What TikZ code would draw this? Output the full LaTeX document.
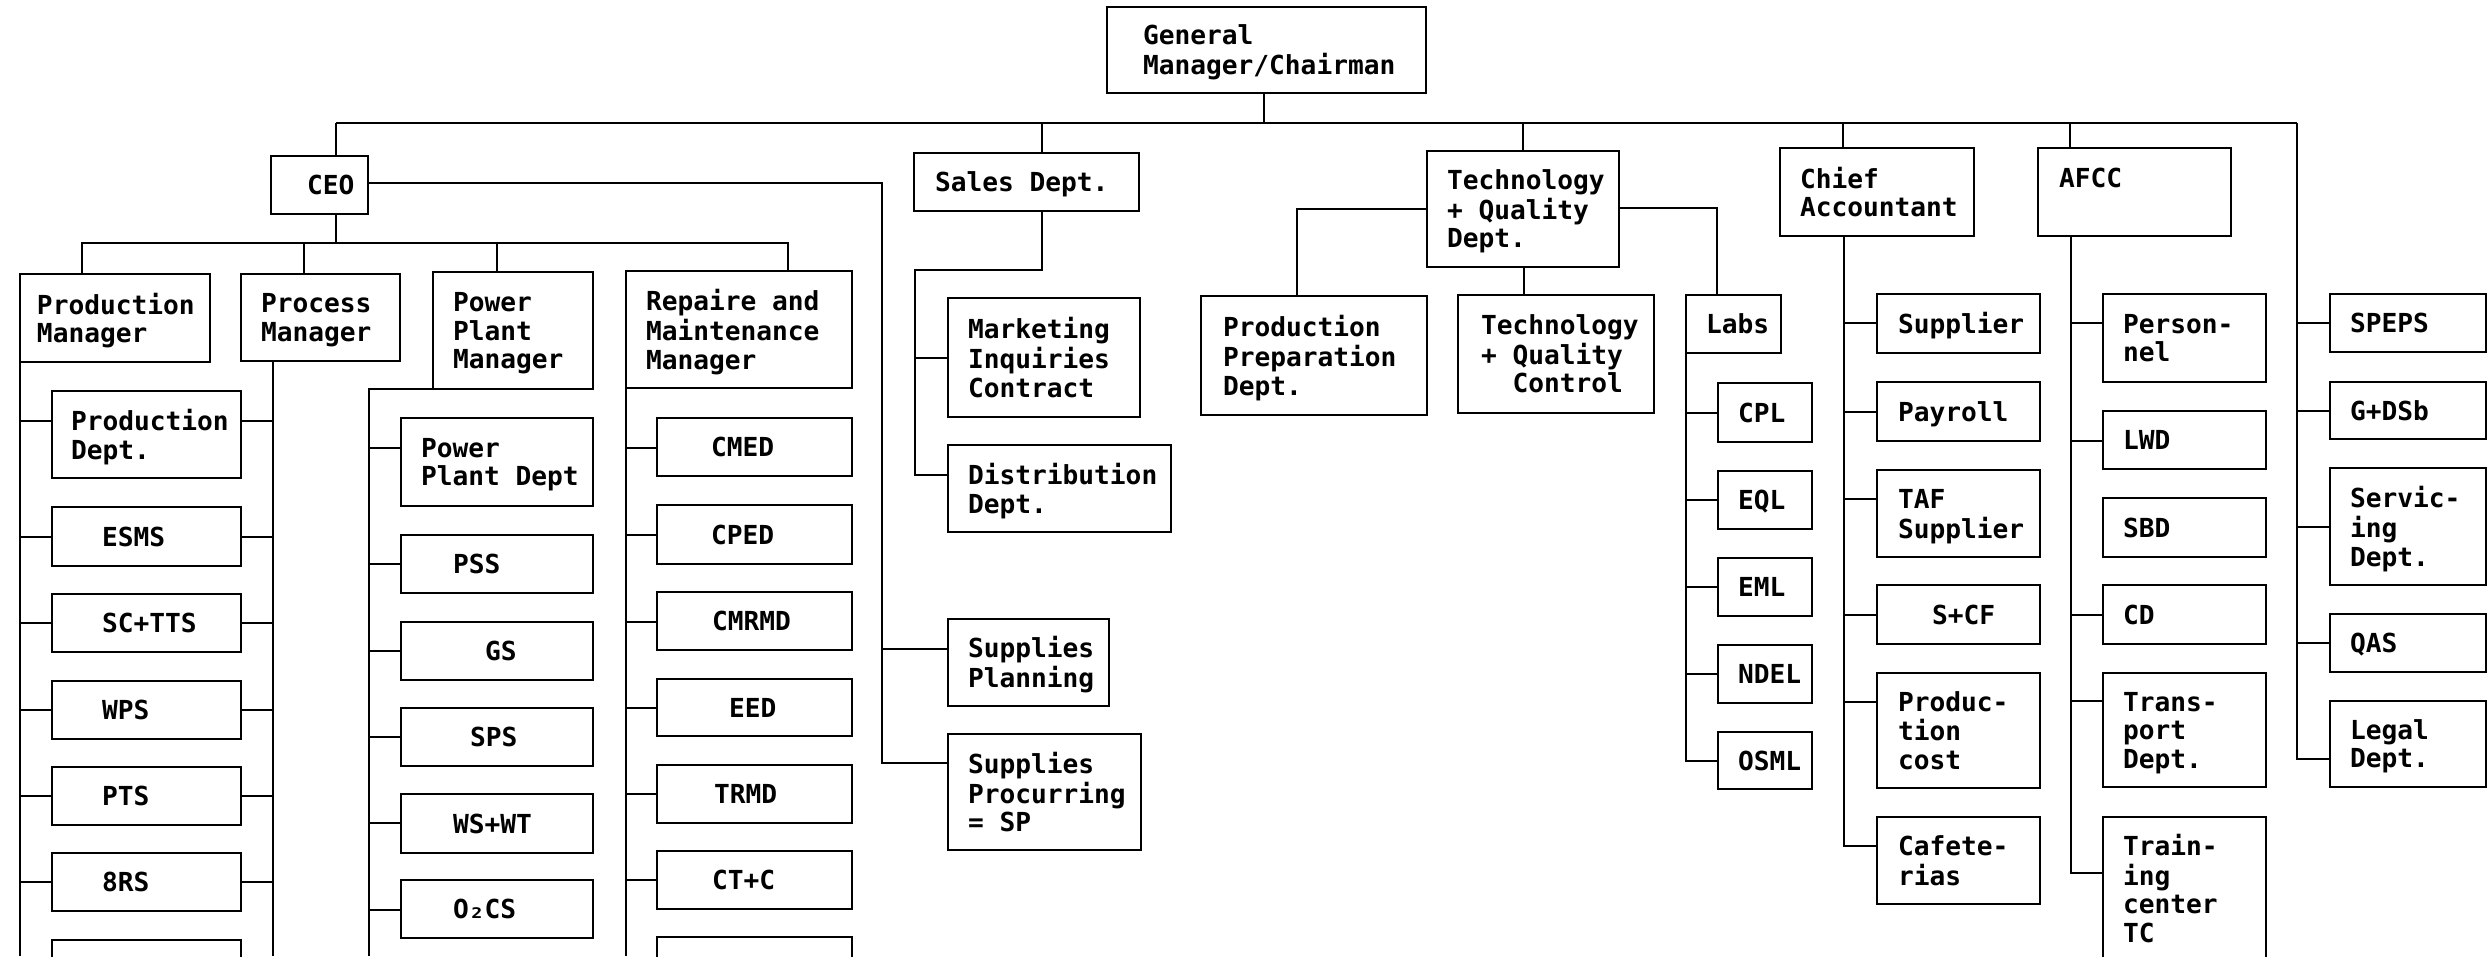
\documentclass[tikz,border=0pt]{standalone}
\usepackage{fontspec}
\newfontfamily\orgfont{DejaVu Sans Mono}
\newlength\pxu
\setlength\pxu{0.01cm}
% \orgbox{name}{x1}{y1}{x2}{y2}{left padding}{lines}
\newcommand\orgbox[7]{%
  \pgfmathsetlengthmacro\obw{(#4-#2)*\pxu}%
  \pgfmathsetlengthmacro\obh{(#5-#3)*\pxu}%
  \pgfmathsetlengthmacro\obp{#6*\pxu}%
  \pgfmathsetlengthmacro\obt{(#4-#2-2*#6)*\pxu}%
  \node[orgbox, minimum width=\obw, minimum height=\obh, inner xsep=\obp]
    (#1) at ({(#2+#4)/2},{(#3+#5)/2})
    {\makebox[\obt][l]{\raisebox{-4\pxu}[\height][\depth]{\begin{tabular}{@{}l@{}}#7\end{tabular}}}};}
% horizontal branch from a spine to a box at height y
\newcommand\branch[3]{\draw[link] (#1 |- 0,#3) -- (#2 |- 0,#3);}
\begin{document}
\begin{tikzpicture}[x=0.01cm,y=-0.01cm,
  orgbox/.style={draw, line width=0.7pt, rectangle, inner ysep=0pt, outer sep=0pt,
    font=\orgfont\bfseries\fontsize{7.45}{8.1}\selectfont},
  link/.style={line width=0.7pt}]
\useasboundingbox (0,0) rectangle (2488,956);
\clip (0,0) rectangle (2488,956);
\fill[white] (0,0) rectangle (2488,956);

% top level
\orgbox{gm}{1107}{7}{1426}{93}{36}{General\\Manager/Chairman}
\orgbox{ceo}{271}{156}{368}{214}{36}{CEO}
\orgbox{sales}{914}{153}{1139}{211}{21}{Sales Dept.}
\orgbox{tech}{1427}{151}{1619}{267}{20}{Technology\\+ Quality\\Dept.}
\orgbox{ca}{1780}{148}{1974}{236}{20}{Chief\\Accountant}
\orgbox{afcc}{2038}{148}{2231}{236}{21}{AFCC\\\mbox{}}

% managers under the CEO
\orgbox{pm}{20}{274}{210}{362}{17}{Production\\Manager}
\orgbox{proc}{241}{274}{400}{361}{20}{Process\\Manager}
\orgbox{ppm}{433}{272}{593}{389}{20}{Power\\Plant\\Manager}
\orgbox{rmm}{626}{271}{852}{388}{20}{Repaire and\\Maintenance\\Manager}

% production column
\orgbox{pd}{52}{391}{241}{478}{19}{Production\\Dept.}
\orgbox{esms}{52}{507}{241}{566}{50}{ESMS}
\orgbox{sctts}{52}{594}{241}{652}{50}{SC+TTS}
\orgbox{wps}{52}{681}{241}{739}{50}{WPS}
\orgbox{pts}{52}{767}{241}{825}{50}{PTS}
\orgbox{brs}{52}{853}{241}{911}{50}{8RS}
\orgbox{pcut}{52}{940}{241}{998}{20}{}

% power plant column
\orgbox{ppd}{401}{418}{593}{506}{20}{Power\\Plant Dept}
\orgbox{pss}{401}{535}{593}{593}{52}{PSS}
\orgbox{gs}{401}{622}{593}{680}{84}{GS}
\orgbox{sps}{401}{708}{593}{766}{69}{SPS}
\orgbox{wswt}{401}{794}{593}{853}{52}{WS+WT}
\orgbox{ocs}{401}{880}{593}{938}{52}{O₂CS}

% repair column
\orgbox{cmed}{657}{418}{852}{476}{54}{CMED}
\orgbox{cped}{657}{505}{852}{564}{54}{CPED}
\orgbox{cmrmd}{657}{592}{852}{650}{55}{CMRMD}
\orgbox{eed}{657}{679}{852}{736}{72}{EED}
\orgbox{trmd}{657}{765}{852}{823}{57}{TRMD}
\orgbox{ctc}{657}{851}{852}{909}{55}{CT+C}
\orgbox{rcut}{657}{937}{852}{995}{20}{}

% sales and supplies
\orgbox{mkt}{948}{298}{1140}{417}{20}{Marketing\\Inquiries\\Contract}
\orgbox{dist}{948}{445}{1171}{532}{20}{Distribution\\Dept.}
\orgbox{supl}{948}{619}{1109}{706}{20}{Supplies\\Planning}
\orgbox{supp}{948}{734}{1141}{850}{20}{Supplies\\Procurring\\= SP}

% technology and quality
\orgbox{prep}{1201}{296}{1427}{415}{22}{Production\\Preparation\\Dept.}
\orgbox{tqc}{1458}{295}{1654}{413}{23}{Technology\\+ Quality\\\phantom{+ }Control}
\orgbox{labs}{1686}{295}{1781}{353}{20}{Labs}
\orgbox{cpl}{1718}{383}{1812}{442}{20}{CPL}
\orgbox{eql}{1718}{471}{1812}{529}{20}{EQL}
\orgbox{eml}{1718}{558}{1812}{616}{20}{EML}
\orgbox{ndel}{1718}{645}{1812}{703}{20}{NDEL}
\orgbox{osml}{1718}{732}{1812}{789}{20}{OSML}

% chief accountant
\orgbox{supr}{1877}{294}{2040}{353}{21}{Supplier}
\orgbox{pay}{1877}{382}{2040}{441}{21}{Payroll}
\orgbox{taf}{1877}{470}{2040}{557}{21}{TAF\\Supplier}
\orgbox{scf}{1877}{585}{2040}{644}{55}{S+CF}
\orgbox{pcost}{1877}{673}{2040}{788}{21}{Produc-\\tion\\cost}
\orgbox{caf}{1877}{817}{2040}{904}{21}{Cafete-\\rias}

% AFCC
\orgbox{pers}{2103}{294}{2266}{382}{20}{Person-\\nel}
\orgbox{lwd}{2103}{411}{2266}{469}{20}{LWD}
\orgbox{sbd}{2103}{498}{2266}{557}{20}{SBD}
\orgbox{cd}{2103}{585}{2266}{644}{20}{CD}
\orgbox{trans}{2103}{673}{2266}{787}{20}{Trans-\\port\\Dept.}
\orgbox{train}{2103}{817}{2266}{960}{20}{Train-\\ing\\center\\TC}

% staff units on the right
\orgbox{speps}{2330}{294}{2486}{352}{20}{SPEPS}
\orgbox{gdsb}{2330}{382}{2486}{439}{20}{G+DSb}
\orgbox{serv}{2330}{468}{2486}{585}{20}{Servic-\\ing\\Dept.}
\orgbox{qas}{2330}{614}{2486}{672}{20}{QAS}
\orgbox{legal}{2330}{701}{2486}{787}{20}{Legal\\Dept.}

% main bus
\coordinate (busL) at (336,123);
\coordinate (busR) at (2297,123);
\draw[link] (busL) -- (busR);
\draw[link] (gm.south -| 1264,0) -- (1264,123);
\draw[link] (busL) -- (ceo.north -| busL);
\draw[link] (sales.north -| 1042,0) -- (1042,123);
\draw[link] (tech.north -| 1523,0) -- (1523,123);
\draw[link] (ca.north -| 1843,0) -- (1843,123);
\draw[link] (afcc.north -| 2070,0) -- (2070,123);

% CEO to its managers
\draw[link] (ceo.south -| busL) -- (336,243);
\draw[link] (pm.north -| 82,0) -- (82,243) -- (788,243) -- (rmm.north -| 788,0);
\draw[link] (proc.north -| 304,0) -- (304,243);
\draw[link] (ppm.north -| 497,0) -- (497,243);

% production column spines
\draw[link] (pm.south west) -- (pm.south west |- 0,956);
\coordinate (procS) at (273,361);
\draw[link] (proc.south -| procS) -- (procS |- 0,956);
\branch{pm.west}{pd.west}{421}
\branch{pm.west}{esms.west}{537}
\branch{pm.west}{sctts.west}{623}
\branch{pm.west}{wps.west}{710}
\branch{pm.west}{pts.west}{796}
\branch{pm.west}{brs.west}{882}
\branch{pd.east}{procS}{421}
\branch{esms.east}{procS}{537}
\branch{sctts.east}{procS}{623}
\branch{wps.east}{procS}{710}
\branch{pts.east}{procS}{796}
\branch{brs.east}{procS}{882}

% power plant spine
\coordinate (ppS) at (369,389);
\draw[link] (ppm.south west) -- (ppS) -- (ppS |- 0,956);
\branch{ppS}{ppd.west}{448}
\branch{ppS}{pss.west}{564}
\branch{ppS}{gs.west}{651}
\branch{ppS}{sps.west}{737}
\branch{ppS}{wswt.west}{823}
\branch{ppS}{ocs.west}{910}

% repair spine
\draw[link] (rmm.south west) -- (rmm.south west |- 0,956);
\branch{rmm.west}{cmed.west}{448}
\branch{rmm.west}{cped.west}{535}
\branch{rmm.west}{cmrmd.west}{622}
\branch{rmm.west}{eed.west}{708}
\branch{rmm.west}{trmd.west}{794}
\branch{rmm.west}{ctc.west}{880}

% CEO to supplies
\draw[link] (ceo.east |- 0,183) -- (882,183) -- (882,763) -- (supp.west |- 0,763);
\branch{882,0}{supl.west}{649}

% sales department
\draw[link] (sales.south -| 1042,0) -- (1042,270) -- (915,270) -- (915,475) -- (dist.west |- 0,475);
\branch{915,0}{mkt.west}{358}

% technology and quality
\draw[link] (tech.west |- 0,209) -- (1297,209) -- (prep.north -| 1297,0);
\draw[link] (tech.south -| 1524,0) -- (tqc.north -| 1524,0);
\draw[link] (tech.east |- 0,208) -- (1717,208) -- (labs.north -| 1717,0);
\draw[link] (labs.south west) -- (1686,761) -- (osml.west |- 0,761);
\branch{labs.west}{cpl.west}{413}
\branch{labs.west}{eql.west}{500}
\branch{labs.west}{eml.west}{587}
\branch{labs.west}{ndel.west}{674}

% chief accountant
\draw[link] (ca.south -| 1844,0) -- (1844,846) -- (caf.west |- 0,846);
\branch{1844,0}{supr.west}{323}
\branch{1844,0}{pay.west}{412}
\branch{1844,0}{taf.west}{499}
\branch{1844,0}{scf.west}{615}
\branch{1844,0}{pcost.west}{702}

% AFCC
\draw[link] (afcc.south -| 2071,0) -- (2071,873) -- (train.west |- 0,873);
\branch{2071,0}{pers.west}{323}
\branch{2071,0}{lwd.west}{441}
\branch{2071,0}{cd.west}{615}
\branch{2071,0}{trans.west}{701}

% right spine
\draw[link] (busR) -- (2297,759) -- (legal.west |- 0,759);
\branch{busR}{speps.west}{323}
\branch{busR}{gdsb.west}{411}
\branch{busR}{serv.west}{527}
\branch{busR}{qas.west}{643}
\end{tikzpicture}
\end{document}
